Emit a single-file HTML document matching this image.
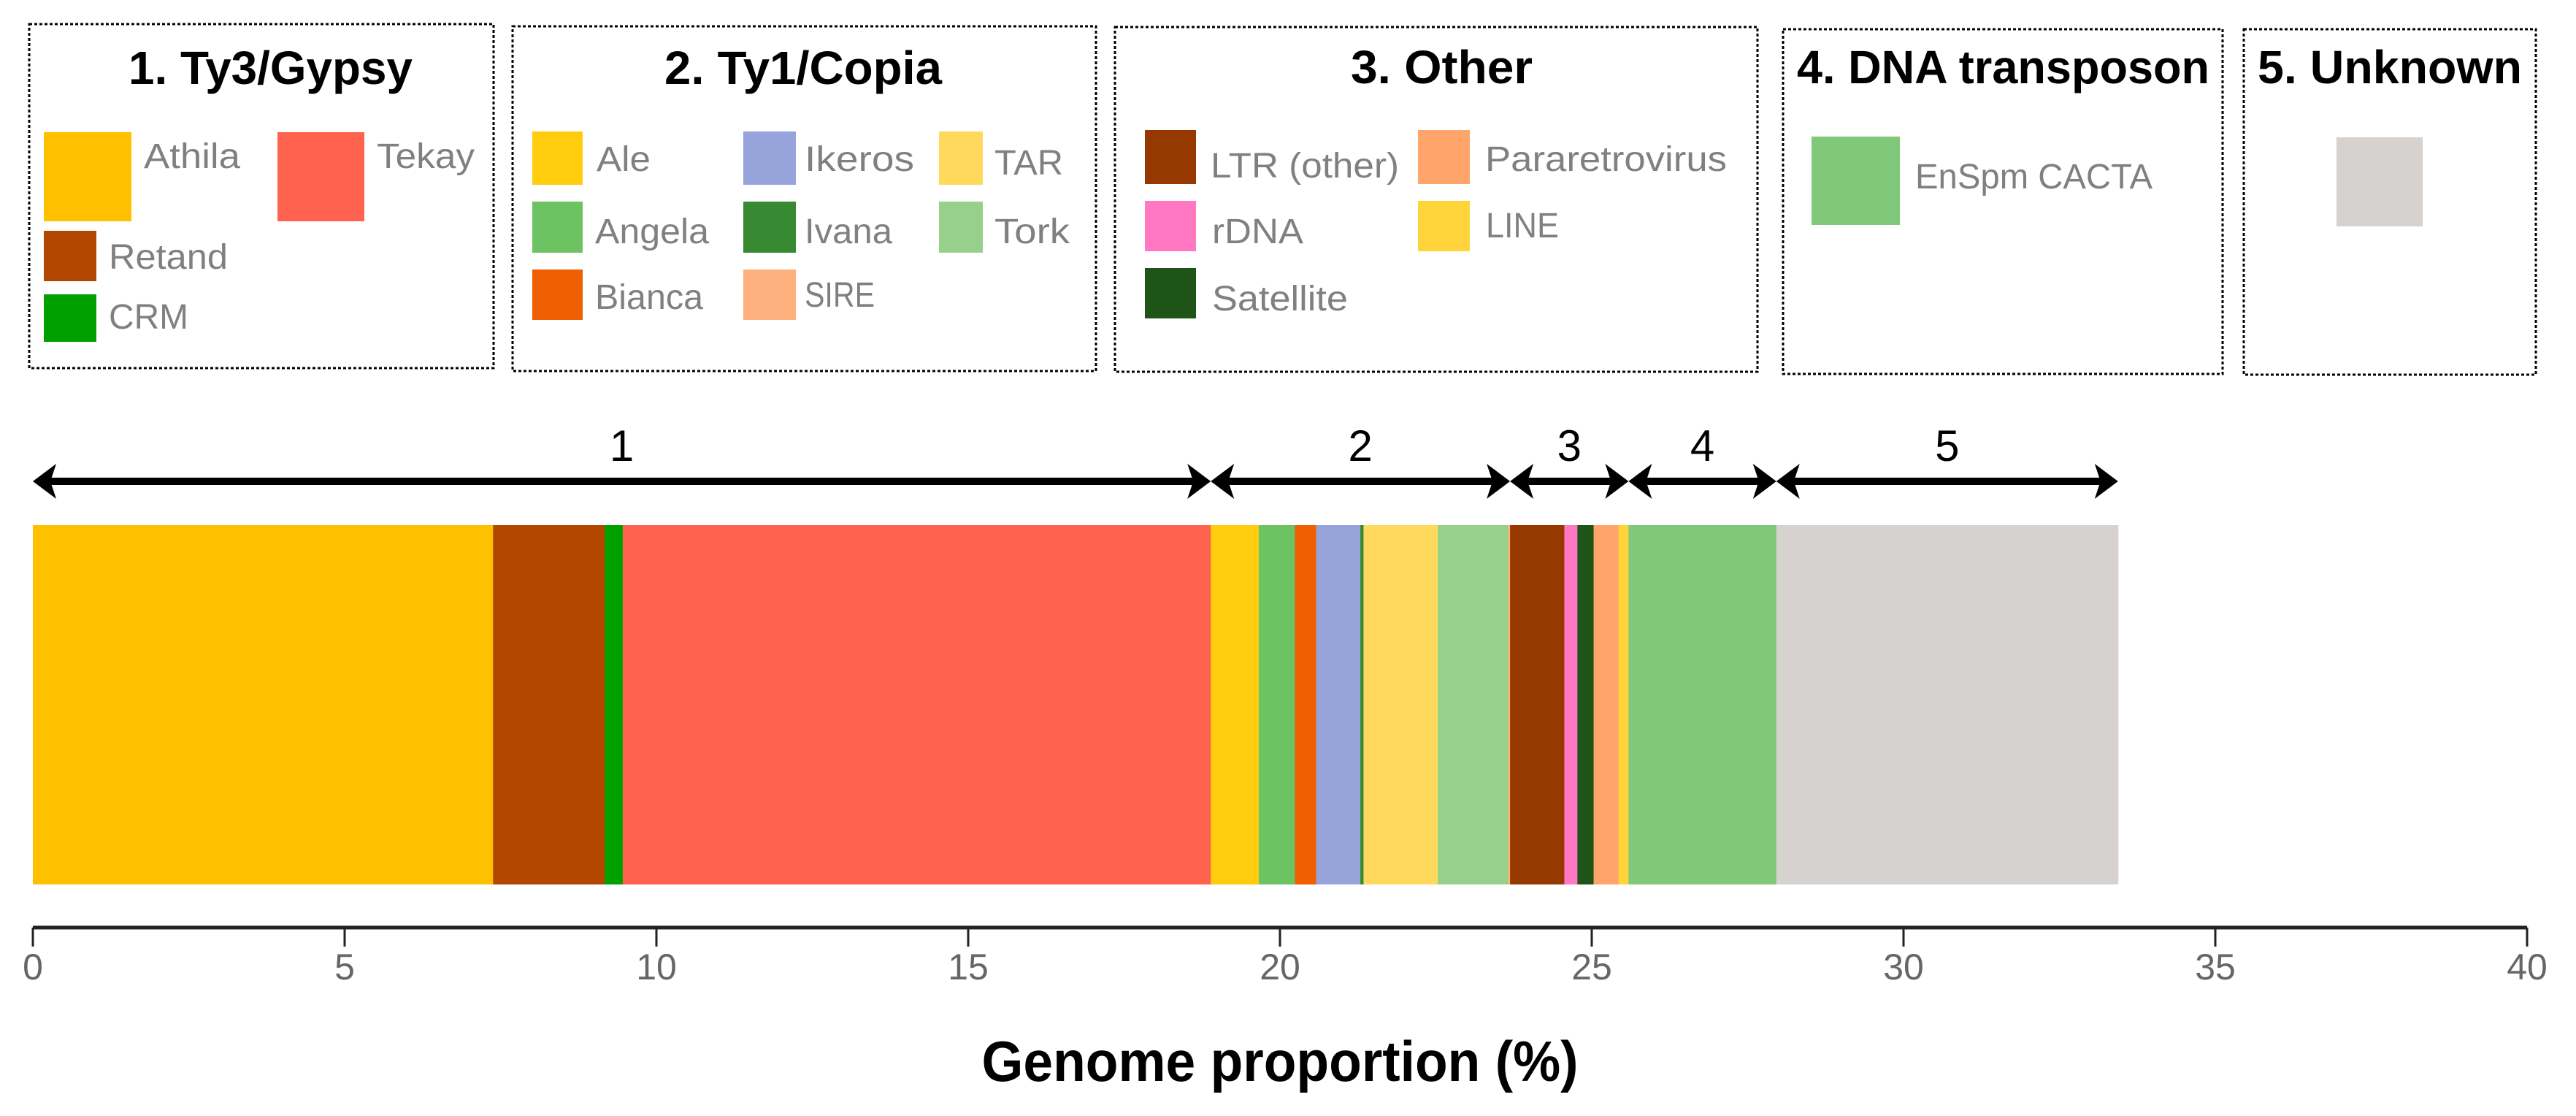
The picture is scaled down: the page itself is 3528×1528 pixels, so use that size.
<!DOCTYPE html>
<html><head><meta charset="utf-8"><style>
html,body{margin:0;padding:0;background:#fff;}
svg{display:block;}
</style></head><body>
<svg id="chart" width="3528" height="1528" viewBox="0 0 3528 1528" xmlns="http://www.w3.org/2000/svg" font-family="'Liberation Sans', sans-serif">
<g id="legend">
  <g>
    <rect x="40" y="33" width="636" height="471" fill="none" stroke="#000" stroke-width="3" stroke-dasharray="4,3"/>
    <text x="176" y="115" font-size="64" font-weight="bold" textLength="389" lengthAdjust="spacingAndGlyphs">1. Ty3/Gypsy</text>
    <rect x="60" y="181" width="120" height="122" fill="#FFC000"/>
    <text x="197" y="230" font-size="48" fill="#808080" textLength="132" lengthAdjust="spacingAndGlyphs">Athila</text>
    <rect x="380" y="181" width="119" height="122" fill="#FF624F"/>
    <text x="516" y="230" font-size="48" fill="#808080" textLength="134" lengthAdjust="spacingAndGlyphs">Tekay</text>
    <rect x="60" y="316" width="72" height="69" fill="#B34700"/>
    <text x="149" y="368" font-size="48" fill="#808080" textLength="163" lengthAdjust="spacingAndGlyphs">Retand</text>
    <rect x="60" y="403" width="72" height="65" fill="#00A000"/>
    <text x="149" y="450" font-size="48" fill="#808080" textLength="109" lengthAdjust="spacingAndGlyphs">CRM</text>
  </g>
  <g>
    <rect x="702" y="36" width="799" height="472" fill="none" stroke="#000" stroke-width="3" stroke-dasharray="4,3"/>
    <text x="910" y="115" font-size="64" font-weight="bold" textLength="380" lengthAdjust="spacingAndGlyphs">2. Ty1/Copia</text>
    <rect x="729" y="180" width="69" height="73" fill="#FFCC0E"/>
    <text x="817" y="234" font-size="48" fill="#808080" textLength="74" lengthAdjust="spacingAndGlyphs">Ale</text>
    <rect x="1018" y="180" width="72" height="73" fill="#97A4DC"/>
    <text x="1102" y="234" font-size="48" fill="#808080" textLength="150" lengthAdjust="spacingAndGlyphs">Ikeros</text>
    <rect x="1286" y="180" width="60" height="73" fill="#FFD95C"/>
    <text x="1362" y="239" font-size="48" fill="#808080" textLength="94" lengthAdjust="spacingAndGlyphs">TAR</text>
    <rect x="729" y="276" width="69" height="70" fill="#6DC262"/>
    <text x="815" y="333" font-size="48" fill="#808080" textLength="156" lengthAdjust="spacingAndGlyphs">Angela</text>
    <rect x="1018" y="276" width="72" height="70" fill="#378A32"/>
    <text x="1102" y="333" font-size="48" fill="#808080" textLength="120" lengthAdjust="spacingAndGlyphs">Ivana</text>
    <rect x="1286" y="276" width="60" height="70" fill="#97D08B"/>
    <text x="1362" y="333" font-size="48" fill="#808080" textLength="103" lengthAdjust="spacingAndGlyphs">Tork</text>
    <rect x="729" y="369" width="69" height="69" fill="#EE6002"/>
    <text x="815" y="423" font-size="48" fill="#808080" textLength="148" lengthAdjust="spacingAndGlyphs">Bianca</text>
    <rect x="1018" y="369" width="72" height="69" fill="#FFB07F"/>
    <text x="1102" y="420" font-size="48" fill="#808080" textLength="96" lengthAdjust="spacingAndGlyphs">SIRE</text>
  </g>
  <g>
    <rect x="1527" y="37" width="880" height="472" fill="none" stroke="#000" stroke-width="3" stroke-dasharray="4,3"/>
    <text x="1850" y="114" font-size="64" font-weight="bold" textLength="249" lengthAdjust="spacingAndGlyphs">3. Other</text>
    <rect x="1568" y="178" width="70" height="74" fill="#963900"/>
    <text x="1658" y="243" font-size="48" fill="#808080" textLength="258" lengthAdjust="spacingAndGlyphs">LTR (other)</text>
    <rect x="1942" y="178" width="71" height="74" fill="#FFA46B"/>
    <text x="2034" y="234" font-size="48" fill="#808080" textLength="331" lengthAdjust="spacingAndGlyphs">Pararetrovirus</text>
    <rect x="1568" y="275" width="70" height="69" fill="#FF78C1"/>
    <text x="1660" y="333" font-size="48" fill="#808080" textLength="125" lengthAdjust="spacingAndGlyphs">rDNA</text>
    <rect x="1942" y="275" width="71" height="69" fill="#FFD43A"/>
    <text x="2035" y="325" font-size="48" fill="#808080" textLength="100" lengthAdjust="spacingAndGlyphs">LINE</text>
    <rect x="1568" y="367" width="70" height="69" fill="#1F5418"/>
    <text x="1660" y="425" font-size="48" fill="#808080" textLength="186" lengthAdjust="spacingAndGlyphs">Satellite</text>
  </g>
  <g>
    <rect x="2442" y="40" width="602" height="472" fill="none" stroke="#000" stroke-width="3" stroke-dasharray="4,3"/>
    <text x="2461" y="114" font-size="64" font-weight="bold" textLength="565" lengthAdjust="spacingAndGlyphs">4. DNA transposon</text>
    <rect x="2481" y="187" width="121" height="121" fill="#81C97A"/>
    <text x="2623" y="258" font-size="48" fill="#808080" textLength="325" lengthAdjust="spacingAndGlyphs">EnSpm CACTA</text>
  </g>
  <g>
    <rect x="3073" y="40" width="400" height="473" fill="none" stroke="#000" stroke-width="3" stroke-dasharray="4,3"/>
    <text x="3092" y="114" font-size="64" font-weight="bold" textLength="362" lengthAdjust="spacingAndGlyphs">5. Unknown</text>
    <rect x="3200" y="188" width="118" height="122" fill="#D6D2CF"/>
  </g>
</g>
<g id="plot"></g>
</svg>
<script>
const categories = ["Athila","Retand","CRM","Tekay","Ale","Angela","Bianca","Ikeros","Ivana","TAR","Tork","SIRE","LTR (other)","rDNA","Satellite","Pararetrovirus","LINE","EnSpm CACTA","Unknown"];
const values = [7.38,1.79,0.29,9.43,0.77,0.58,0.34,0.71,0.05,1.19,1.13,0.03,0.87,0.21,0.26,0.40,0.16,2.37,5.48];
const groupOf = [1,1,1,1,2,2,2,2,2,2,2,2,3,3,3,3,3,4,5];
const colors = ["#FFC000","#B34700","#00A000","#FF624F","#FFCC0E","#6DC262","#EE6002","#97A4DC","#378A32","#FFD95C","#97D08B","#FFB07F","#963900","#FF78C1","#1F5418","#FFA46B","#FFD43A","#81C97A","#D6D2CF"];
const groupLabels = ["1","2","3","4","5"];
const tickValues = [0,5,10,15,20,25,30,35,40];

const NS = "http://www.w3.org/2000/svg";
const plot = document.getElementById("plot");
const X0 = 45, X1 = 3461, XMAX = 40;
function xScale(v){ return X0 + (X1 - X0) * v / XMAX; }
const BAR_TOP = 719, BAR_BOT = 1211, AXIS_Y = 1270, ARROW_Y = 659;
function mk(tag, attrs){ const e = document.createElementNS(NS, tag); for (const k in attrs) e.setAttribute(k, attrs[k]); plot.appendChild(e); return e; }

// stacked segments
let cum = 0;
const groupStart = {}, groupEnd = {};
values.forEach((v, i) => {
  const x = xScale(cum), w = xScale(cum + v) - x;
  const r = mk("rect", {x: x, y: BAR_TOP, width: w + 0.5, height: BAR_BOT - BAR_TOP, fill: colors[i]});
  
  
  const g = groupOf[i];
  if (groupStart[g] === undefined) groupStart[g] = cum;
  cum += v;
  groupEnd[g] = cum;
});

// group arrows
groupLabels.forEach((lab, gi) => {
  const g = gi + 1;
  const xa = xScale(groupStart[g]), xb = xScale(groupEnd[g]);
  const grp = mk("g", {});
  
  
  const ln = document.createElementNS(NS, "line");
  ln.setAttribute("x1", xa + 10); ln.setAttribute("x2", xb - 10);
  ln.setAttribute("y1", ARROW_Y); ln.setAttribute("y2", ARROW_Y);
  ln.setAttribute("stroke", "#000"); ln.setAttribute("stroke-width", "10");
  grp.appendChild(ln);
  const h1 = document.createElementNS(NS, "polygon");
  h1.setAttribute("points", `${xa},${ARROW_Y} ${xa+32},${ARROW_Y-24} ${xa+24},${ARROW_Y} ${xa+32},${ARROW_Y+24}`);
  grp.appendChild(h1);
  const h2 = document.createElementNS(NS, "polygon");
  h2.setAttribute("points", `${xb},${ARROW_Y} ${xb-32},${ARROW_Y-24} ${xb-24},${ARROW_Y} ${xb-32},${ARROW_Y+24}`);
  grp.appendChild(h2);
  const t = mk("text", {x: (xa + xb) / 2, y: 631, "font-size": 60, "text-anchor": "middle", fill: "#000"});
  t.textContent = lab;
  
  
});

// axis
const axis = mk("line", {x1: X0, x2: X1, y1: AXIS_Y, y2: AXIS_Y, stroke: "#222", "stroke-width": 5});


tickValues.forEach(v => {
  const x = xScale(v);
  const tk = mk("line", {x1: x, x2: x, y1: AXIS_Y, y2: AXIS_Y + 26, stroke: "#222", "stroke-width": 3});
  
  
  const tl = mk("text", {x: x, y: 1341, "font-size": 50, "text-anchor": "middle", fill: "#666"});
  tl.textContent = String(v);
  
  
});
const title = mk("text", {x: 1753, y: 1480, "font-size": 78, "font-weight": "bold", "text-anchor": "middle", fill: "#000", textLength: 817, lengthAdjust: "spacingAndGlyphs"});
title.textContent = "Genome proportion (%)";


</script>
</body></html>
